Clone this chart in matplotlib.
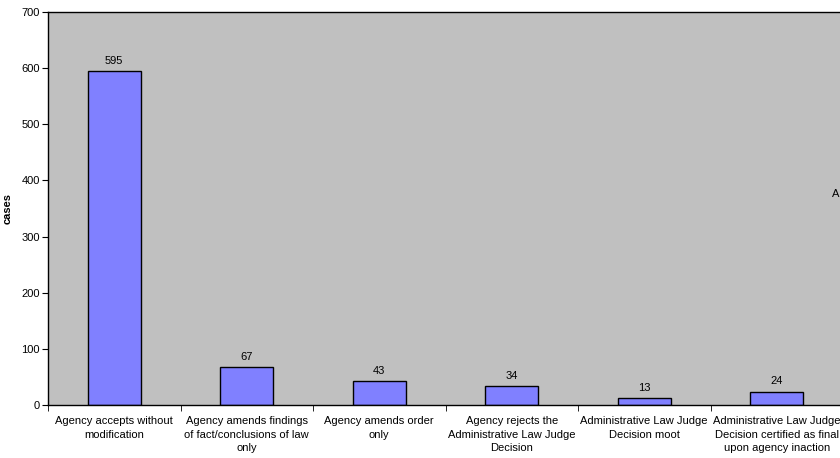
import matplotlib.pyplot as plt
import numpy as np

plt.rcParams['font.family'] = ['Liberation Sans', 'DejaVu Sans']

categories = ['Agency accepts without\nmodification',
              'Agency amends findings\nof fact/conclusions of law\nonly',
              'Agency amends order\nonly',
              'Agency rejects the\nAdministrative Law Judge\nDecision',
              'Administrative Law Judge\nDecision moot',
              'Administrative Law Judge\nDecision certified as final\nupon agency inaction']
cases = [595, 67, 43, 34, 13, 24]

fig = plt.figure(figsize=(8.4, 4.58), dpi=100)
ax = fig.add_axes([48 / 840, 1 - 405 / 458, 795 / 840, 393 / 458])
ax.set_facecolor('#C0C0C0')

x = np.arange(len(cases))
ax.bar(x, cases, width=0.4, color='#8080FF', edgecolor='black', linewidth=1)
for xi, v in zip(x, cases):
    ax.text(xi, v + 9, str(v), ha='center', va='bottom', fontsize=8)

ax.set_xlim(-0.5, len(cases) - 0.5)
ax.set_ylim(0, 700)
ax.set_yticks(range(0, 701, 100))

# category labels centred, tick marks at the boundaries
ax.set_xticks(x)
ax.set_xticklabels(categories, fontsize=8, linespacing=1.45)
ax.tick_params(axis='x', which='major', length=0, pad=8)
ax.set_xticks(np.arange(-0.5, len(cases), 1), minor=True)
ax.tick_params(axis='x', which='minor', length=4, direction='out')
ax.tick_params(axis='y', length=4, labelsize=8, pad=2)

for s in ax.spines.values():
    s.set_linewidth(1)

ax.set_ylabel('cases', fontsize=8, fontweight='bold')
ax.yaxis.set_label_coords(-35 / 795, 0.5)

# legend text that is cut off at the right edge
fig.text(832 / 840, 1 - 194 / 458, 'A', fontsize=8, ha='left', va='center')

fig.savefig('out.png', dpi=100)
